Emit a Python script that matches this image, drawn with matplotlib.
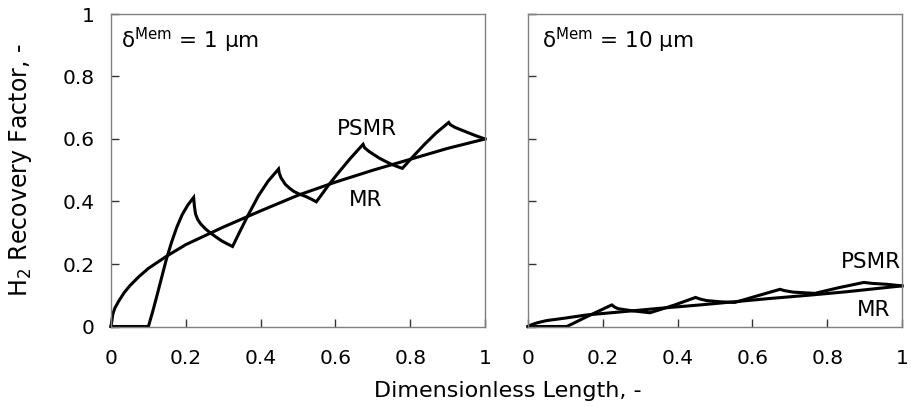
import matplotlib
matplotlib.use("Agg")
import matplotlib.pyplot as plt

plt.rcParams["font.family"] = ["DejaVu Sans"]
plt.rcParams["mathtext.fontset"] = "dejavusans"

# Membrane thickness 1 um: conventional membrane reactor (MR)
mr1_x = [0, 0.005, 0.01, 0.02, 0.035, 0.05, 0.075, 0.1, 0.15, 0.2, 0.25, 0.3,
         0.4, 0.5, 0.6, 0.7, 0.8, 0.9, 1.0]
mr1_y = [0, 0.04, 0.058, 0.08, 0.108, 0.13, 0.16, 0.186, 0.226, 0.262, 0.29,
         0.318, 0.37, 0.42, 0.462, 0.5, 0.535, 0.57, 0.6]

# Membrane thickness 1 um: pressure-swing membrane reactor (PSMR)
psmr1_x = [0, 0.1, 0.112, 0.122, 0.135, 0.148, 0.162, 0.176, 0.19, 0.205, 0.221,
           0.223, 0.226, 0.232, 0.24, 0.252, 0.265, 0.28, 0.296, 0.31, 0.325,
           0.345, 0.366, 0.394, 0.42, 0.448,
           0.45, 0.455, 0.466, 0.478, 0.489, 0.505, 0.521, 0.535, 0.549,
           0.565, 0.582, 0.61, 0.64, 0.674,
           0.678, 0.69, 0.703, 0.717, 0.733, 0.748, 0.765, 0.779,
           0.81, 0.84, 0.87, 0.903,
           0.907, 0.92, 0.945, 0.97, 1.0]
psmr1_y = [0, 0, 0.05, 0.095, 0.155, 0.215, 0.27, 0.318, 0.357, 0.388, 0.413,
           0.385, 0.36, 0.342, 0.328, 0.313, 0.3, 0.287, 0.274, 0.265, 0.256,
           0.305, 0.355, 0.418, 0.465, 0.504,
           0.49, 0.475, 0.455, 0.442, 0.432, 0.423, 0.416, 0.408, 0.399,
           0.425, 0.453, 0.495, 0.538, 0.583,
           0.572, 0.56, 0.55, 0.539, 0.529, 0.52, 0.512, 0.506,
           0.547, 0.585, 0.62, 0.653,
           0.646, 0.637, 0.625, 0.613, 0.6]

# Membrane thickness 10 um
mr10_x = [0, 0.01, 0.025, 0.05, 0.1, 0.157, 0.25, 0.35, 0.46, 0.55, 0.65,
          0.75, 0.85, 1.0]
mr10_y = [0, 0.006, 0.012, 0.019, 0.027, 0.037, 0.047, 0.058, 0.069, 0.079,
          0.09, 0.1, 0.111, 0.13]

psmr10_x = [0, 0.104, 0.16, 0.224, 0.232, 0.241, 0.28, 0.326, 0.39, 0.448,
            0.46, 0.477, 0.515, 0.553, 0.61, 0.674, 0.685, 0.709, 0.767,
            0.83, 0.898, 0.92, 0.96, 1.0]
psmr10_y = [0, 0, 0.033, 0.069, 0.062, 0.057, 0.05, 0.044, 0.068, 0.093,
            0.088, 0.083, 0.079, 0.077, 0.097, 0.119, 0.115, 0.11, 0.106,
            0.124, 0.141, 0.138, 0.135, 0.13]

x_ticks = [0, 0.2, 0.4, 0.6, 0.8, 1]
x_tick_labels = ["0", "0.2", "0.4", "0.6", "0.8", "1"]
y_ticks = [0, 0.2, 0.4, 0.6, 0.8, 1]
y_tick_labels = ["0", "0.2", "0.4", "0.6", "0.8", "1"]

panel_titles = [r"$\mathrm{\delta}^{\mathrm{Mem}}$ = 1 $\mathrm{\mu}$m",
                r"$\mathrm{\delta}^{\mathrm{Mem}}$ = 10 $\mathrm{\mu}$m"]

W, H = 915, 419
fig = plt.figure(figsize=(W / 100, H / 100), dpi=100)
ax1 = fig.add_axes([111 / W, (H - 326.5) / H, 374 / W, 312.5 / H])
ax2 = fig.add_axes([528 / W, (H - 326.5) / H, 374 / W, 312.5 / H])

line_kw = dict(color="black", lw=2.2, solid_joinstyle="miter", clip_on=False)
ax1.plot(mr1_x, mr1_y, **line_kw)
ax1.plot(psmr1_x, psmr1_y, **line_kw)
ax2.plot(mr10_x, mr10_y, **line_kw)
ax2.plot(psmr10_x, psmr10_y, **line_kw)

note_size = 15.5
for i, ax in enumerate((ax1, ax2)):
    ax.set_xlim(0, 1)
    ax.set_ylim(0, 1)
    ax.set_xticks(x_ticks)
    ax.set_xticklabels(x_tick_labels)
    ax.set_yticks(y_ticks)
    if i == 0:
        ax.set_yticklabels(y_tick_labels)
    else:
        ax.set_yticklabels([])
    ax.tick_params(direction="in", length=6, width=1, color="#333333",
                   labelsize=14.5)
    ax.tick_params(axis="x", pad=16.5)
    ax.tick_params(axis="y", pad=12)
    for s in ax.spines.values():
        s.set_color("#808080")
        s.set_linewidth(1)
    ax.text(0.028 if i == 0 else 0.037, 0.915, panel_titles[i],
            transform=ax.transAxes, fontsize=note_size, ha="left", va="center")

ax1.text(0.685, 0.632, "PSMR", fontsize=note_size, ha="center", va="center")
ax1.text(0.68, 0.405, "MR", fontsize=note_size, ha="center", va="center")
ax2.text(0.998, 0.206, "PSMR", fontsize=note_size, ha="right", va="center")
ax2.text(0.925, 0.053, "MR", fontsize=note_size, ha="center", va="center")

fig.text(21 / W, 1 - 170 / H, r"H$_2$ Recovery Factor, -", rotation=90,
         fontsize=17, ha="center", va="center")
fig.text(508 / W, 1 - 391 / H, "Dimensionless Length, -", fontsize=16,
         ha="center", va="center")

fig.savefig("out.png", dpi=100)
